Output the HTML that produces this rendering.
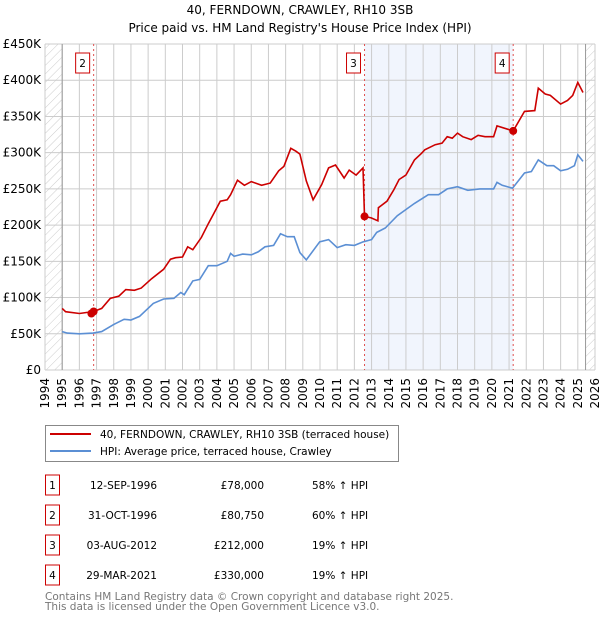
<!DOCTYPE html>
<html><head><meta charset="utf-8"><style>
body{margin:0;background:#fff;font-family:"DejaVu Sans","Liberation Sans",sans-serif;}
svg text{font-family:"DejaVu Sans","Liberation Sans",sans-serif;}
</style></head><body>
<svg id="chart" width="600" height="620" xmlns="http://www.w3.org/2000/svg">
<defs><pattern id="hatch" width="6" height="6" patternUnits="userSpaceOnUse" patternTransform="rotate(45)"><line x1="0" y1="0" x2="0" y2="6" stroke="#ccc" stroke-width="1"/></pattern></defs>
<text x="300" y="14" text-anchor="middle" font-size="12">40, FERNDOWN, CRAWLEY, RH10 3SB</text>
<text x="300" y="32" text-anchor="middle" font-size="12">Price paid vs. HM Land Registry's House Price Index (HPI)</text>
<g id="plot"></g>
<g>
<rect x="45.5" y="425.5" width="353" height="36" fill="#fff" stroke="#888"/>
<line x1="50" y1="434" x2="91" y2="434" stroke="#cc0000" stroke-width="2"/>
<text x="100" y="438" font-size="10.5">40, FERNDOWN, CRAWLEY, RH10 3SB (terraced house)</text>
<line x1="50" y1="451" x2="91" y2="451" stroke="#5b8fd4" stroke-width="2"/>
<text x="100" y="455" font-size="10.5">HPI: Average price, terraced house, Crawley</text>
</g>
<g id="table" font-size="10.5"></g>
<text x="45" y="600" font-size="10.5" fill="#777">Contains HM Land Registry data © Crown copyright and database right 2025.</text>
<text x="45" y="610" font-size="10.5" fill="#777">This data is licensed under the Open Government Licence v3.0.</text>
</svg>
<script>
const hpiYears=[1995,1995.3,1996,1996.8,1997.3,1998,1998.6,1999,1999.5,2000.3,2000.9,2001.5,2001.9,2002.1,2002.6,2003,2003.5,2004,2004.6,2004.8,2005,2005.5,2006,2006.4,2006.8,2007.3,2007.7,2008.1,2008.5,2008.83,2009.2,2009.98,2010.5,2011,2011.5,2012,2012.52,2013,2013.3,2013.8,2014.5,2015.5,2016.3,2016.9,2017.4,2018,2018.6,2019.3,2020.1,2020.3,2020.6,2021.2,2021.9,2022.3,2022.7,2023.2,2023.6,2024,2024.4,2024.8,2025.0,2025.3];
const hpiValues=[53,51,50,51,53,63,70,69,74,92,98,99,107,104,123,125,144,144,150,161,157,160,159,163,170,172,188,184,184,162,152,177,180,169,173,172,177,180,190,196,213,230,242,242,250,253,248,250,250,259,255,251,272,274,290,282,282,275,277,282,297,288];
const priceYears=[1995,1995.2,1996,1996.83,1997.3,1997.8,1998.3,1998.7,1999.2,1999.6,2000.2,2000.9,2001.3,2001.6,2002,2002.3,2002.6,2003.1,2003.5,2003.8,2004.2,2004.6,2004.8,2005.2,2005.6,2006,2006.6,2007.1,2007.6,2007.9,2008.3,2008.6,2008.83,2009.2,2009.6,2010.1,2010.5,2010.9,2011.4,2011.7,2012.1,2012.5,2012.59,2012.98,2013.37,2013.4,2013.9,2014.3,2014.6,2015.0,2015.5,2015.9,2016.1,2016.7,2017.1,2017.4,2017.7,2018.0,2018.3,2018.8,2019.2,2019.6,2020.1,2020.3,2021.24,2021.9,2022.5,2022.7,2023.1,2023.4,2024,2024.4,2024.7,2025.0,2025.3];
const priceValues=[85,80.5,78,80.75,85,99,102,111,110,113,126,139,153,155,156,170,166,183,202,215,233,235,242,262,255,260,255,258,275,281,306,302,298,261,235,256,279,283,265,276,269,279,212,210,206,224,233,249,263,269,290,299,304,311,313,322,320,327,322,318,324,322,322,337,330,357,358,389,381,379,367,372,379,397,383];
const saleIds=["1","2","3","4"];
const saleYears=[1996.70,1996.83,2012.59,2021.24];
const saleValues=[78,80.75,212,330];
const saleDates=["12-SEP-1996","31-OCT-1996","03-AUG-2012","29-MAR-2021"];
const salePrices=["£78,000","£80,750","£212,000","£330,000"];
const saleHpi=["58% ↑ HPI","60% ↑ HPI","19% ↑ HPI","19% ↑ HPI"];
const yTicks=[0,50,100,150,200,250,300,350,400,450];
const yTickLabels=["£0","£50K","£100K","£150K","£200K","£250K","£300K","£350K","£400K","£450K"];
const xTicks=[1994,1995,1996,1997,1998,1999,2000,2001,2002,2003,2004,2005,2006,2007,2008,2009,2010,2011,2012,2013,2014,2015,2016,2017,2018,2019,2020,2021,2022,2023,2024,2025,2026];

const L=45,R=595,T=44,B=370,Y0=1994,Y1=2026,V1=450;
const xs=y=>L+(y-Y0)/(Y1-Y0)*(R-L);
const ys=v=>B-v/V1*(B-T);
const NS="http://www.w3.org/2000/svg";
const g=document.getElementById('plot');
function mk(tag,attrs,parent){const e=document.createElementNS(NS,tag);for(const k in attrs)e.setAttribute(k,attrs[k]);(parent||g).appendChild(e);return e;}
const dataEnd=2025.45;
let h=mk('rect',{x:L,y:T,width:xs(1995)-L,height:B-T,fill:'url(#hatch)'});


h=mk('rect',{x:xs(dataEnd),y:T,width:R-xs(dataEnd),height:B-T,fill:'url(#hatch)'});


let sh=mk('rect',{x:xs(saleYears[2]),y:T,width:xs(saleYears[3])-xs(saleYears[2]),height:B-T,fill:'#eef3fc',opacity:0.8});


xTicks.forEach(t=>{const l=mk('line',{x1:xs(t),y1:T,x2:xs(t),y2:B,stroke:'#ccc','stroke-width':1});


const tx=mk('text',{x:0,y:0,'font-size':12,'text-anchor':'end',transform:`translate(${xs(t)+4},${B+8}) rotate(-90)`});tx.textContent=t;

});
yTicks.forEach((t,i)=>{const l=mk('line',{x1:L,y1:ys(t),x2:R,y2:ys(t),stroke:'#ccc','stroke-width':1});


const tx=mk('text',{x:L-4,y:ys(t)+4,'font-size':12,'text-anchor':'end'});tx.textContent=yTickLabels[i];

});
let bl=mk('line',{x1:xs(1995),y1:T,x2:xs(1995),y2:B,stroke:'#999'});


bl=mk('line',{x1:xs(dataEnd),y1:T,x2:xs(dataEnd),y2:B,stroke:'#999'});


[1,2,3].forEach(i=>{const x=xs(saleYears[i]);
const l=mk('line',{x1:x,y1:T,x2:x,y2:B,stroke:'#e05050','stroke-dasharray':'2,3','stroke-width':1});


const r=mk('rect',{x:x-18,y:53,width:14,height:20,fill:'#fff',stroke:'#cc0000'});


const t=mk('text',{x:x-11,y:67,'font-size':10.5,'text-anchor':'middle'});t.textContent=saleIds[i];

});
const path=(xsArr,vs)=>xsArr.map((y,i)=>(i?'L':'M')+xs(y).toFixed(1)+','+ys(vs[i]).toFixed(1)).join('');
let p=mk('path',{d:path(hpiYears,hpiValues),fill:'none',stroke:'#5b8fd4','stroke-width':1.6});


p=mk('path',{d:path(priceYears,priceValues),fill:'none',stroke:'#cc0000','stroke-width':1.6});


saleYears.forEach((y,i)=>{const c=mk('circle',{cx:xs(y),cy:ys(saleValues[i]),r:4,fill:'#cc0000'});

});
const tb=document.getElementById('table');
saleIds.forEach((id,i)=>{const cy=485+i*30;
const r=mk('rect',{x:45.5,y:cy-10,width:14,height:20,fill:'#fff',stroke:'#cc0000'},tb);


const a=mk('text',{x:52.5,y:cy+4,'text-anchor':'middle'},tb);a.textContent=id;


const d=mk('text',{x:157,y:cy+4,'text-anchor':'end'},tb);d.textContent=saleDates[i];


const pr=mk('text',{x:264,y:cy+4,'text-anchor':'end'},tb);pr.textContent=salePrices[i];


const hp=mk('text',{x:312,y:cy+4},tb);hp.textContent=saleHpi[i];

});
</script>
</body></html>
